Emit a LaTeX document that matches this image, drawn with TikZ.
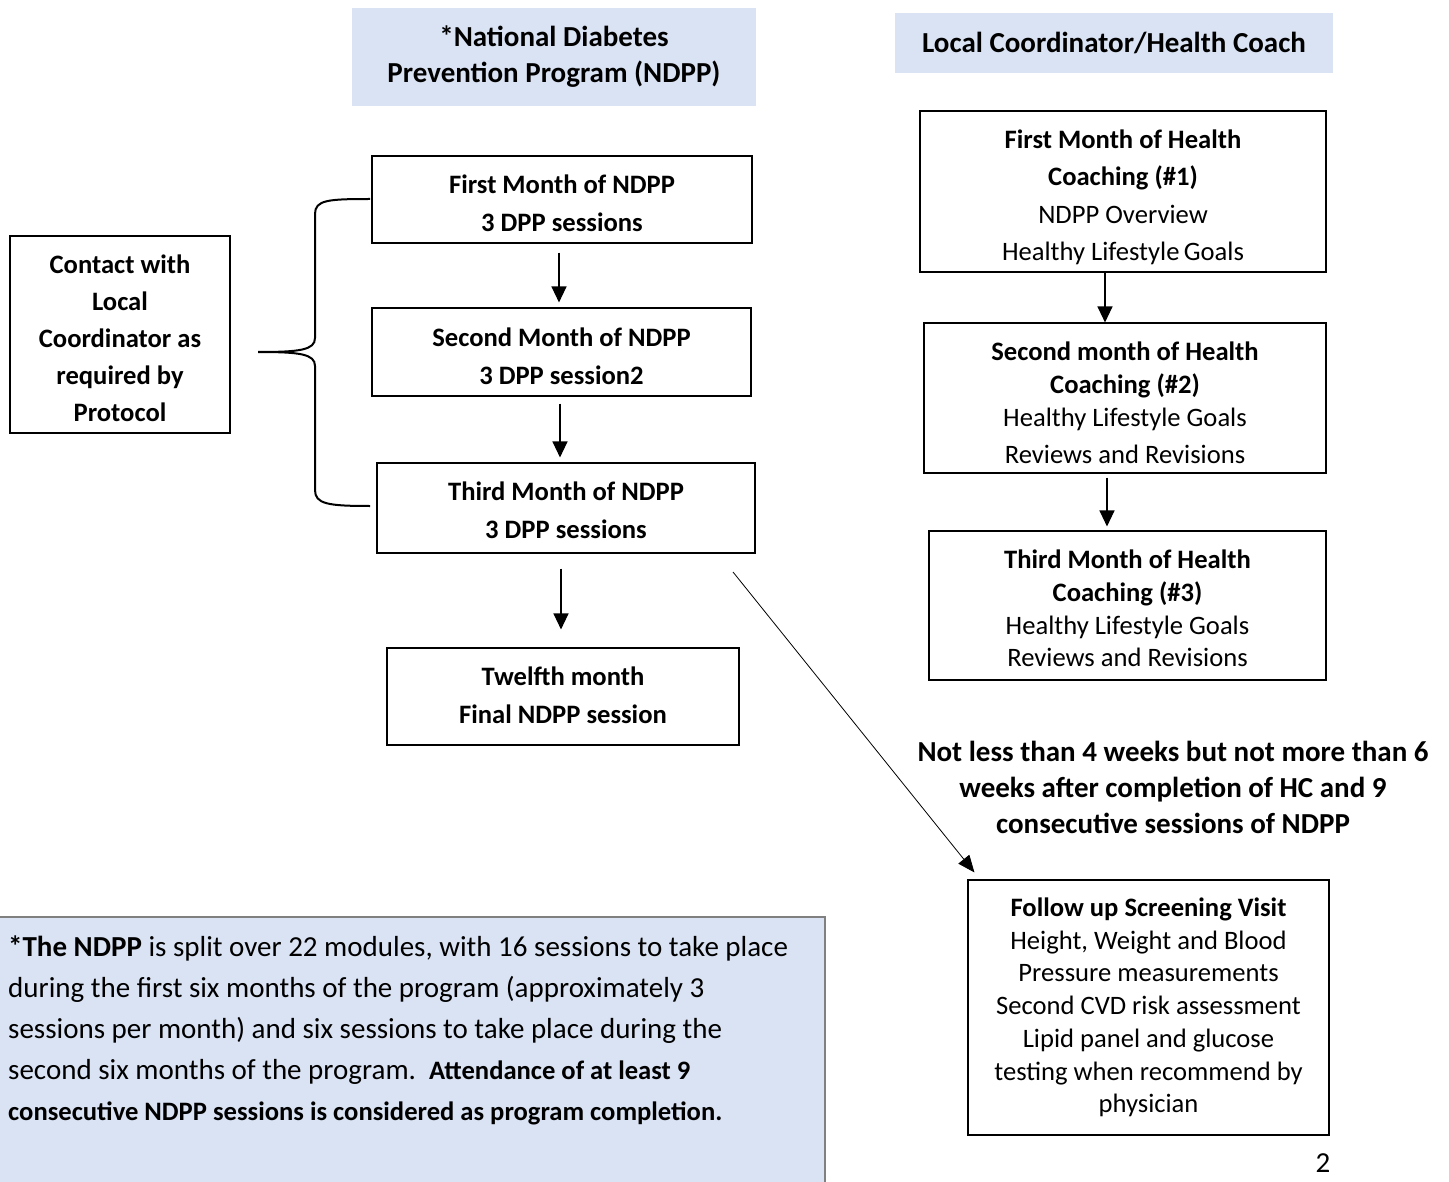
\documentclass[tikz,border=0pt]{standalone}
\usepackage{fontspec}
\setmainfont{Carlito}
\usetikzlibrary{arrows.meta}
\definecolor{hdrblue}{HTML}{DAE3F3}
\begin{document}
\begin{tikzpicture}[x=1pt,y=-1pt,
  box/.style={draw, line width=1.1pt, inner sep=0pt},
  bt/.style={inner sep=0pt, align=center, font=\fontsize{26.6pt}{38pt}\selectfont\bfseries},
  hdr/.style={fill=hdrblue, inner sep=0pt, align=center, font=\fontsize{29pt}{36pt}\selectfont\bfseries},
  arr/.style={line width=1.2pt, -{Triangle[length=16pt,width=15pt]}},
  thinarr/.style={line width=0.8pt, -{Triangle[length=17pt,width=14pt]}}]
\useasboundingbox (0,0) rectangle (1449,1182);
% headers
\node[hdr, minimum width=404pt, minimum height=98pt] (h1) at (554,57) {*National Diabetes\\Prevention Program (NDPP)};
\node[hdr, minimum width=438pt, minimum height=60pt] (h2) at (1114,43) {Local Coordinator/Health Coach};
% NDPP column
\node[box, minimum width=380pt, minimum height=87pt] (n1) at (562,199.5) {};
\node[bt] (n1t) at ([yshift=-4pt]n1.center) {First Month of NDPP\\3 DPP sessions};
\node[box, minimum width=379pt, minimum height=88pt] (n2) at (561.5,352) {};
\node[bt] (n2t) at ([yshift=-4pt]n2.center) {Second Month of NDPP\\3 DPP session2};
\node[box, minimum width=378pt, minimum height=90pt] (n3) at (566,508) {};
\node[bt] (n3t) at ([yshift=-2pt]n3.center) {Third Month of NDPP\\3 DPP sessions};
\node[box, minimum width=352pt, minimum height=97pt] (n4) at (563,696.5) {};
\node[bt] (n4t) at ([yshift=1pt]n4.center) {Twelfth month\\Final NDPP session};
% contact
\node[box, minimum width=220pt, minimum height=197pt] (c) at (120,334.5) {};
\node[bt, font=\fontsize{26.6pt}{37pt}\selectfont\bfseries] (ct) at ([yshift=-4pt]c.center) {Contact with\\Local\\Coordinator as\\required by\\Protocol};
% brace
\draw[line width=2pt] (370,199) .. controls (328,199) and (315,200) .. (315,214) -- (315,338) .. controls (315,350) and (300,352) .. (258,352)
  .. controls (300,352) and (315,354) .. (315,366) -- (315,490) .. controls (315,504) and (328,506) .. (370,506);
% NDPP arrows
\draw[arr, shorten <=9pt, shorten >=5pt] (n1.south -| 559,0) -- (n2.north -| 559,0);
\draw[arr, shorten <=7pt, shorten >=5pt] (n2.south -| 560,0) -- (n3.north -| 560,0);
\draw[arr, shorten <=15pt, shorten >=18pt] (n3.south -| 561,0) -- (n4.north -| 561,0);
% HC column
\node[box, minimum width=406pt, minimum height=161pt] (hc1) at (1123,191.5) {};
\node[bt, font=\fontsize{26.6pt}{37.5pt}\selectfont] (hc1t) at ([yshift=-6pt]hc1.center) {\textbf{First Month of Health}\\\textbf{Coaching (\#1)}\\NDPP Overview\\Healthy Lifestyle\,Goals};
\node[box, minimum width=402pt, minimum height=150pt] (hc2) at (1125,398) {};
\node[bt, font=\fontsize{26.6pt}{33pt}\selectfont] (hc2t) at ([yshift=-5pt]hc2.center) {\textbf{Second month of Health}\\\textbf{Coaching (\#2)}\\Healthy Lifestyle Goals\\[4pt]Reviews and Revisions};
\node[box, minimum width=397pt, minimum height=149pt] (hc3) at (1127.5,605.5) {};
\node[bt, font=\fontsize{26.6pt}{32.7pt}\selectfont] (hc3t) at ([yshift=-3pt]hc3.center) {\textbf{Third Month of Health}\\\textbf{Coaching (\#3)}\\Healthy Lifestyle Goals\\Reviews and Revisions};
\draw[arr] (hc1.south -| 1105,0) -- (hc2.north -| 1105,0);
\draw[arr, shorten <=4pt, shorten >=4pt] (hc2.south -| 1107,0) -- (hc3.north -| 1107,0);
% label
\node[align=center, inner sep=0pt, font=\fontsize{29pt}{36pt}\selectfont\bfseries] (lab) at (1173,787) {Not less than 4 weeks but not more than 6\\weeks after completion of HC and 9\\consecutive sessions of NDPP};
% follow up
\node[box, minimum width=361pt, minimum height=255pt] (fu) at (1148.5,1007.5) {};
\node[bt, font=\fontsize{26.6pt}{32.7pt}\selectfont] (fut) at (fu.center) {\textbf{Follow up Screening Visit}\\Height, Weight and Blood\\Pressure measurements\\Second CVD risk assessment\\Lipid panel and glucose\\testing when recommend by\\physician};
\coordinate (d1) at (733,572);
\draw[thinarr] (d1) -- ([shift={(7,-7)}]fu.north west);
% bottom note
\fill[hdrblue] (0,917) rectangle (825,1182);
\draw[line width=1.2pt, gray] (0,917) -- (825,917) -- (825,1182);
\node[anchor=north west, inner sep=0pt, align=left, font=\fontsize{29pt}{41pt}\selectfont] (note) at (8,936) {\textbf{*The NDPP} is split over 22 modules, with 16 sessions to take place\\during the first six months of the program (approximately 3\\sessions per month) and six sessions to take place during the\\second six months of the program.\ \ {\fontsize{26.6pt}{41pt}\selectfont\bfseries Attendance of at least 9}\\{\fontsize{26.6pt}{41pt}\selectfont\bfseries consecutive NDPP sessions is considered as program completion.}};
% page number
\node[inner sep=0pt, font=\fontsize{29pt}{36pt}\selectfont] (pg) at (1323,1163) {2};
\end{tikzpicture}
\end{document}
